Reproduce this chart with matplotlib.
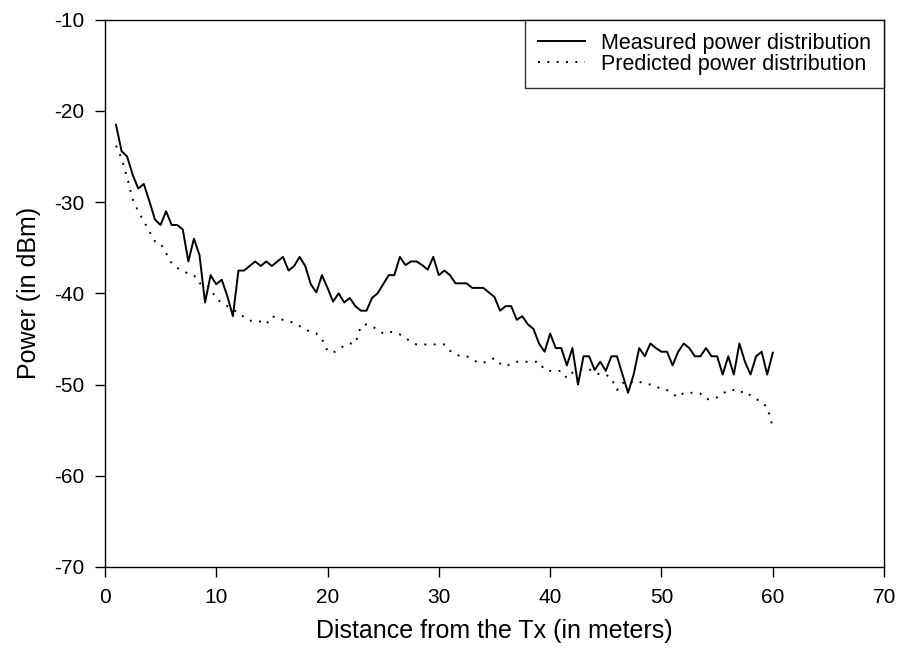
import numpy as np
import matplotlib
matplotlib.use("Agg")
import matplotlib.pyplot as plt

plt.rcParams['font.family'] = ['Liberation Sans', 'DejaVu Sans']
plt.rcParams['axes.unicode_minus'] = False

# distance (m), every 0.5 m from 1 to 60
distance = np.arange(1.0, 60.01, 0.5)

# measured power (dBm)
measured = [
    -21.5, -24.4, -25.0, -27.0, -28.5, -28.0, -29.9, -31.9, -32.5, -31.0,
    -32.5, -32.5, -33.0, -36.5, -34.0, -35.8, -41.0, -38.0, -39.0, -38.5,
    -40.3, -42.5, -37.5, -37.5, -37.0, -36.5, -37.0, -36.5, -37.0, -36.5,
    -36.0, -37.5, -37.0, -36.0, -37.0, -39.0, -39.9, -38.0, -39.4, -40.9,
    -40.0, -41.0, -40.5, -41.4, -41.9, -41.9, -40.5, -40.0, -39.0, -38.0,
    -38.0, -36.0, -36.9, -36.5, -36.5, -36.9, -37.4, -36.0, -38.0, -37.5,
    -38.0, -38.9, -38.9, -38.9, -39.4, -39.4, -39.4, -39.9, -40.4, -41.9,
    -41.4, -41.4, -42.9, -42.5, -43.4, -43.9, -45.5, -46.4, -44.4, -46.0,
    -46.0, -47.9, -46.0, -50.0, -46.9, -46.9, -48.4, -47.5, -48.5, -46.9,
    -46.9, -48.9, -50.9, -48.9, -46.0, -46.9, -45.5, -46.0, -46.4, -46.4,
    -47.9, -46.4, -45.5, -46.0, -46.9, -46.9, -46.0, -46.9, -46.9, -48.9,
    -46.9, -48.9, -45.5, -47.5, -48.9, -46.9, -46.4, -48.9, -46.5,
]

# predicted power (dBm)
predicted = [
    -23.8, -25.2, -27.3, -29.7, -31.0, -32.1, -33.2, -34.3, -34.5, -35.6,
    -36.7, -37.2, -37.6, -37.8, -38.0, -38.9, -38.9, -39.5, -40.6, -41.0,
    -41.4, -41.8, -42.1, -42.6, -43.0, -43.0, -43.1, -43.4, -42.5, -42.7,
    -42.9, -43.0, -43.3, -43.6, -44.0, -44.2, -44.4, -45.0, -46.3, -46.5,
    -46.2, -45.7, -45.5, -45.5, -43.6, -43.4, -43.6, -44.0, -44.4, -44.2,
    -44.3, -44.5, -44.9, -45.3, -45.6, -45.6, -45.6, -45.6, -45.6, -45.6,
    -46.3, -46.7, -46.9, -46.9, -47.2, -47.6, -47.6, -47.4, -47.1, -47.7,
    -48.0, -47.7, -47.5, -47.5, -47.5, -47.5, -47.5, -48.4, -48.5, -48.5,
    -48.5, -49.3, -48.7, -48.5, -48.3, -48.3, -48.7, -48.9, -48.9, -49.3,
    -50.6, -49.8, -50.0, -49.6, -49.7, -49.9, -50.0, -50.2, -50.5, -50.6,
    -51.0, -51.4, -50.9, -50.9, -50.9, -51.0, -51.6, -51.6, -51.4, -51.0,
    -50.6, -50.6, -50.9, -50.7, -51.2, -51.6, -51.9, -52.5, -54.7,
]

fig = plt.figure(figsize=(9.04, 6.6), dpi=100)
ax = fig.add_axes([0.116, 0.141, 0.862, 0.829])

ax.plot(distance, measured, color='black', lw=1.4, linestyle='-',
        label='Measured power distribution')
ax.plot(distance, predicted, color='black', lw=1.4, linestyle=(0, (1, 3.8)),
        label='Predicted power distribution')

ax.set_xlim(0, 70)
ax.set_ylim(-70, -10)
ax.set_xticks(range(0, 71, 10))
ax.set_yticks(range(-70, -9, 10))
ax.tick_params(direction='out', length=7, width=1, labelsize=15, pad=8)
for s in ax.spines.values():
    s.set_linewidth(1)

ax.set_xlabel('Distance from the Tx (in meters)', fontsize=18, labelpad=9)
ax.set_ylabel('Power (in dBm)', fontsize=18, labelpad=9)

leg = ax.legend(loc='upper right', fontsize=15.5, frameon=True, fancybox=False,
                borderaxespad=0, borderpad=0.6, handlelength=2.2,
                handletextpad=0.75, labelspacing=0.0)
leg.get_frame().set_edgecolor('black')
leg.get_frame().set_linewidth(1)

fig.savefig('out.png', dpi=100)
